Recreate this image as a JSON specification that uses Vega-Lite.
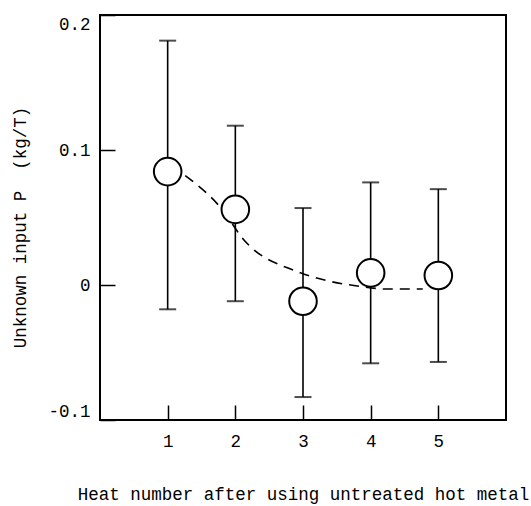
{
  "$schema": "https://vega.github.io/schema/vega-lite/v6.json",
  "autosize": "none",
  "width": 406,
  "height": 405,
  "padding": {"left": 100, "top": 15, "right": 25, "bottom": 86},
  "background": "white",
  "config": {
    "view": {"stroke": "black", "strokeWidth": 2},
    "font": "Liberation Mono",
    "axis": {
      "domain": false,
      "grid": false,
      "ticks": true,
      "tickColor": "black",
      "tickWidth": 1.5,
      "tickSize": -15,
      "labelFont": "Liberation Mono",
      "labelFontSize": 17.5,
      "labelColor": "black",
      "titleFont": "Liberation Mono",
      "titleFontSize": 17.5,
      "titleFontWeight": "normal",
      "titleColor": "black"
    }
  },
  "datasets": {
    "heats": [
      {"heat": 1, "p": 0.084, "lo": -0.018, "hi": 0.181},
      {"heat": 2, "p": 0.056, "lo": -0.012, "hi": 0.118},
      {"heat": 3, "p": -0.012, "lo": -0.083, "hi": 0.057},
      {"heat": 4, "p": 0.009, "lo": -0.058, "hi": 0.076},
      {"heat": 5, "p": 0.007, "lo": -0.057, "hi": 0.071}
    ],
    "trend": [
      {"heat": 1.26, "p": 0.081},
      {"heat": 1.82, "p": 0.055},
      {"heat": 2.1, "p": 0.035},
      {"heat": 2.91, "p": 0.01},
      {"heat": 3.29, "p": 0.004},
      {"heat": 3.84, "p": -0.001},
      {"heat": 4.25, "p": -0.003},
      {"heat": 4.77, "p": -0.003}
    ]
  },
  "encoding": {
    "x": {
      "field": "heat",
      "type": "quantitative",
      "scale": {"domain": [0, 6], "nice": false, "zero": false},
      "axis": {
        "values": [1, 2, 3, 4, 5],
        "labelPadding": 27,
        "labelBaseline": "top",
        "title": "Heat number after using untreated hot metal",
        "titleY": 79,
        "titleBaseline": "alphabetic"
      }
    }
  },
  "layer": [
    {
      "data": {"name": "trend"},
      "mark": {"type": "line", "color": "black", "strokeWidth": 1.6, "strokeDash": [10, 7], "interpolate": "monotone"},
      "encoding": {
        "y": {
          "field": "p",
          "type": "quantitative",
          "scale": {"domain": [-0.1, 0.2], "nice": false, "zero": false},
          "axis": {
            "values": [-0.1, 0, 0.1, 0.2],
            "labelExpr": "datum.value == 0 ? '0' : replace(format(datum.value, '.1f'), '−', '-')",
            "labelPadding": 25,
            "labelFlush": true,
            "title": "Unknown input P \u00a0(kg/T)",
            "titleX": -80,
            "titleY": 212,
            "titleAngle": -90,
            "titleAlign": "center",
            "titleBaseline": "middle"
          }
        }
      }
    },
    {
      "data": {"name": "heats"},
      "mark": {"type": "rule", "color": "black", "strokeWidth": 1.6},
      "encoding": {
        "y": {"field": "lo", "type": "quantitative"},
        "y2": {"field": "hi"}
      }
    },
    {
      "data": {"name": "heats"},
      "mark": {"type": "tick", "orient": "horizontal", "color": "black", "size": 17, "thickness": 2},
      "encoding": {"y": {"field": "hi", "type": "quantitative"}}
    },
    {
      "data": {"name": "heats"},
      "mark": {"type": "tick", "orient": "horizontal", "color": "black", "size": 17, "thickness": 2},
      "encoding": {"y": {"field": "lo", "type": "quantitative"}}
    },
    {
      "data": {"name": "heats"},
      "mark": {"type": "point", "shape": "circle", "filled": true, "fill": "white", "stroke": "black", "strokeWidth": 2, "size": 760, "opacity": 1},
      "encoding": {"y": {"field": "p", "type": "quantitative"}}
    }
  ]
}
